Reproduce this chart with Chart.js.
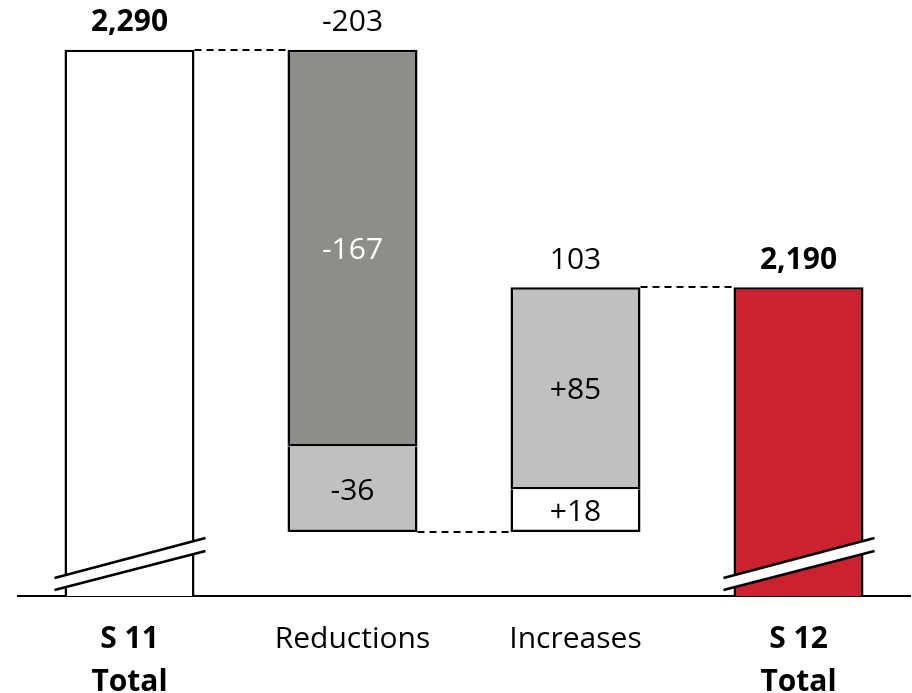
<!DOCTYPE html>
<html>
<head>
<meta charset="utf-8">
<script src="https://cdn.jsdelivr.net/npm/chart.js@4.4.1/dist/chart.umd.min.js"></script>
<style>
  html, body { margin: 0; padding: 0; background: #fff; }
  #wrap { width: 912px; height: 693px; }
</style>
</head>
<body>
<div id="wrap"><canvas id="myChart"></canvas></div>
<script>
/* Waterfall data */
const categories = [['S 11', 'Total'], 'Reductions', 'Increases', ['S 12', 'Total']];
const boldCategory = [true, false, false, true];
const axisFloor = 2060;   // broken axis, bars start here
const axisTop = 2300;
const startTotal = 2290;
const reductions = [-167, -36];
const increases = [18, 85];
const endTotal = 2190;

const FONT = '"Open Sans", sans-serif';
const FSIZE = 30;

// floating ranges built from the values
const redA = [startTotal + reductions[0], startTotal];
const redB = [redA[0] + reductions[1], redA[0]];
const lowPoint = redB[0];
const incA = [lowPoint, lowPoint + increases[0]];
const incB = [incA[1], incA[1] + increases[1]];

const data = {
  labels: categories,
  datasets: [
    { label: 'totals', data: [[axisFloor, startTotal], null, null, [axisFloor, endTotal]],
      backgroundColor: ['#ffffff', null, null, '#cc2131'], borderSkipped: 'start' },
    { label: 'main', data: [null, redA, incB, null],
      backgroundColor: [null, '#8d8e89', '#c0c0c0', null], borderSkipped: false },
    { label: 'small', data: [null, redB, incA, null],
      backgroundColor: [null, '#c0c0c0', '#ffffff', null], borderSkipped: 'end' }
  ]
};
data.datasets.forEach(ds => {
  ds.borderColor = '#000';
  ds.borderWidth = 2.5;
  ds.grouped = false;
  ds.barPercentage = 0.583;
  ds.categoryPercentage = 1;
});

const topLabels = [
  { idx: 0, text: '2,290', value: startTotal, bold: true },
  { idx: 1, text: '-203', value: startTotal, bold: false },
  { idx: 2, text: '103', value: incB[1], bold: false },
  { idx: 3, text: '2,190', value: endTotal, bold: true }
];
const innerLabels = [
  { ds: 1, idx: 1, text: '-167', color: '#fff' },
  { ds: 2, idx: 1, text: '-36', color: '#000' },
  { ds: 1, idx: 2, text: '+85', color: '#000' },
  { ds: 2, idx: 2, text: '+18', color: '#000' }
];

const waterfallExtras = {
  id: 'waterfallExtras',
  afterDatasetsDraw(chart) {
    const ctx = chart.ctx;
    const y = chart.scales.y;
    const base = chart.chartArea.bottom;
    const bar = (ds, i) => chart.getDatasetMeta(ds).data[i];

    // dashed connectors
    ctx.save();
    ctx.strokeStyle = '#000';
    ctx.lineWidth = 2;
    ctx.setLineDash([7, 5]);
    const link = (a, b, v) => {
      const py = Math.round(y.getPixelForValue(v));
      ctx.beginPath();
      ctx.moveTo(a.x + a.width / 2, py);
      ctx.lineTo(b.x - b.width / 2, py);
      ctx.stroke();
    };
    link(bar(0, 0), bar(1, 1), startTotal);
    link(bar(2, 1), bar(2, 2), lowPoint);
    link(bar(1, 2), bar(0, 3), endTotal);
    ctx.restore();

    // axis break marks on the total bars
    [0, 3].forEach(i => {
      const b = bar(0, i);
      const x0 = b.x - b.width / 2 - 10;
      const x1 = b.x + b.width / 2 + 11;
      ctx.save();
      ctx.fillStyle = '#fff';
      ctx.beginPath();
      ctx.moveTo(x0, base - 18);
      ctx.lineTo(x1, base - 58);
      ctx.lineTo(x1, base - 45);
      ctx.lineTo(x0, base - 6);
      ctx.closePath();
      ctx.fill();
      ctx.strokeStyle = '#000';
      ctx.lineWidth = 2.5;
      ctx.beginPath();
      ctx.moveTo(x0, base - 18);
      ctx.lineTo(x1, base - 58);
      ctx.moveTo(x0, base - 6);
      ctx.lineTo(x1, base - 45);
      ctx.stroke();
      ctx.restore();
    });

    // value labels
    ctx.save();
    ctx.textAlign = 'center';
    ctx.textBaseline = 'middle';
    topLabels.forEach(l => {
      const x = chart.scales.x.getPixelForValue(l.idx);
      ctx.font = (l.bold ? 'bold ' : '') + FSIZE + 'px ' + FONT;
      ctx.fillStyle = '#000';
      ctx.fillText(l.text, x, y.getPixelForValue(l.value) - 27);
    });
    innerLabels.forEach(l => {
      const b = bar(l.ds, l.idx);
      ctx.font = FSIZE + 'px ' + FONT;
      ctx.fillStyle = l.color;
      ctx.fillText(l.text, b.x, (b.y + b.base) / 2 + 2);
    });
    ctx.restore();
  }
};

const config = {
  type: 'bar',
  data: data,
  options: {
    responsive: true,
    maintainAspectRatio: false,
    animation: false,
    layout: { padding: { top: 26, left: 18, right: 2, bottom: 0 } },
    plugins: {
      legend: { display: false },
      tooltip: { enabled: false }
    },
    scales: {
      x: {
        grid: { display: false },
        border: { display: true, color: '#000', width: 2 },
        afterFit(scale) { scale.height = 97; },
        ticks: {
          color: '#000',
          padding: 14,
          maxRotation: 0,
          font: c => ({ family: FONT, size: FSIZE, lineHeight: 1.43, weight: boldCategory[c.index] ? 'bold' : 'normal' })
        }
      },
      y: {
        display: false,
        min: axisFloor,
        max: axisTop
      }
    }
  },
  plugins: [waterfallExtras]
};

const myChart = new Chart(document.getElementById('myChart'), config);
</script>
</body>
</html>
